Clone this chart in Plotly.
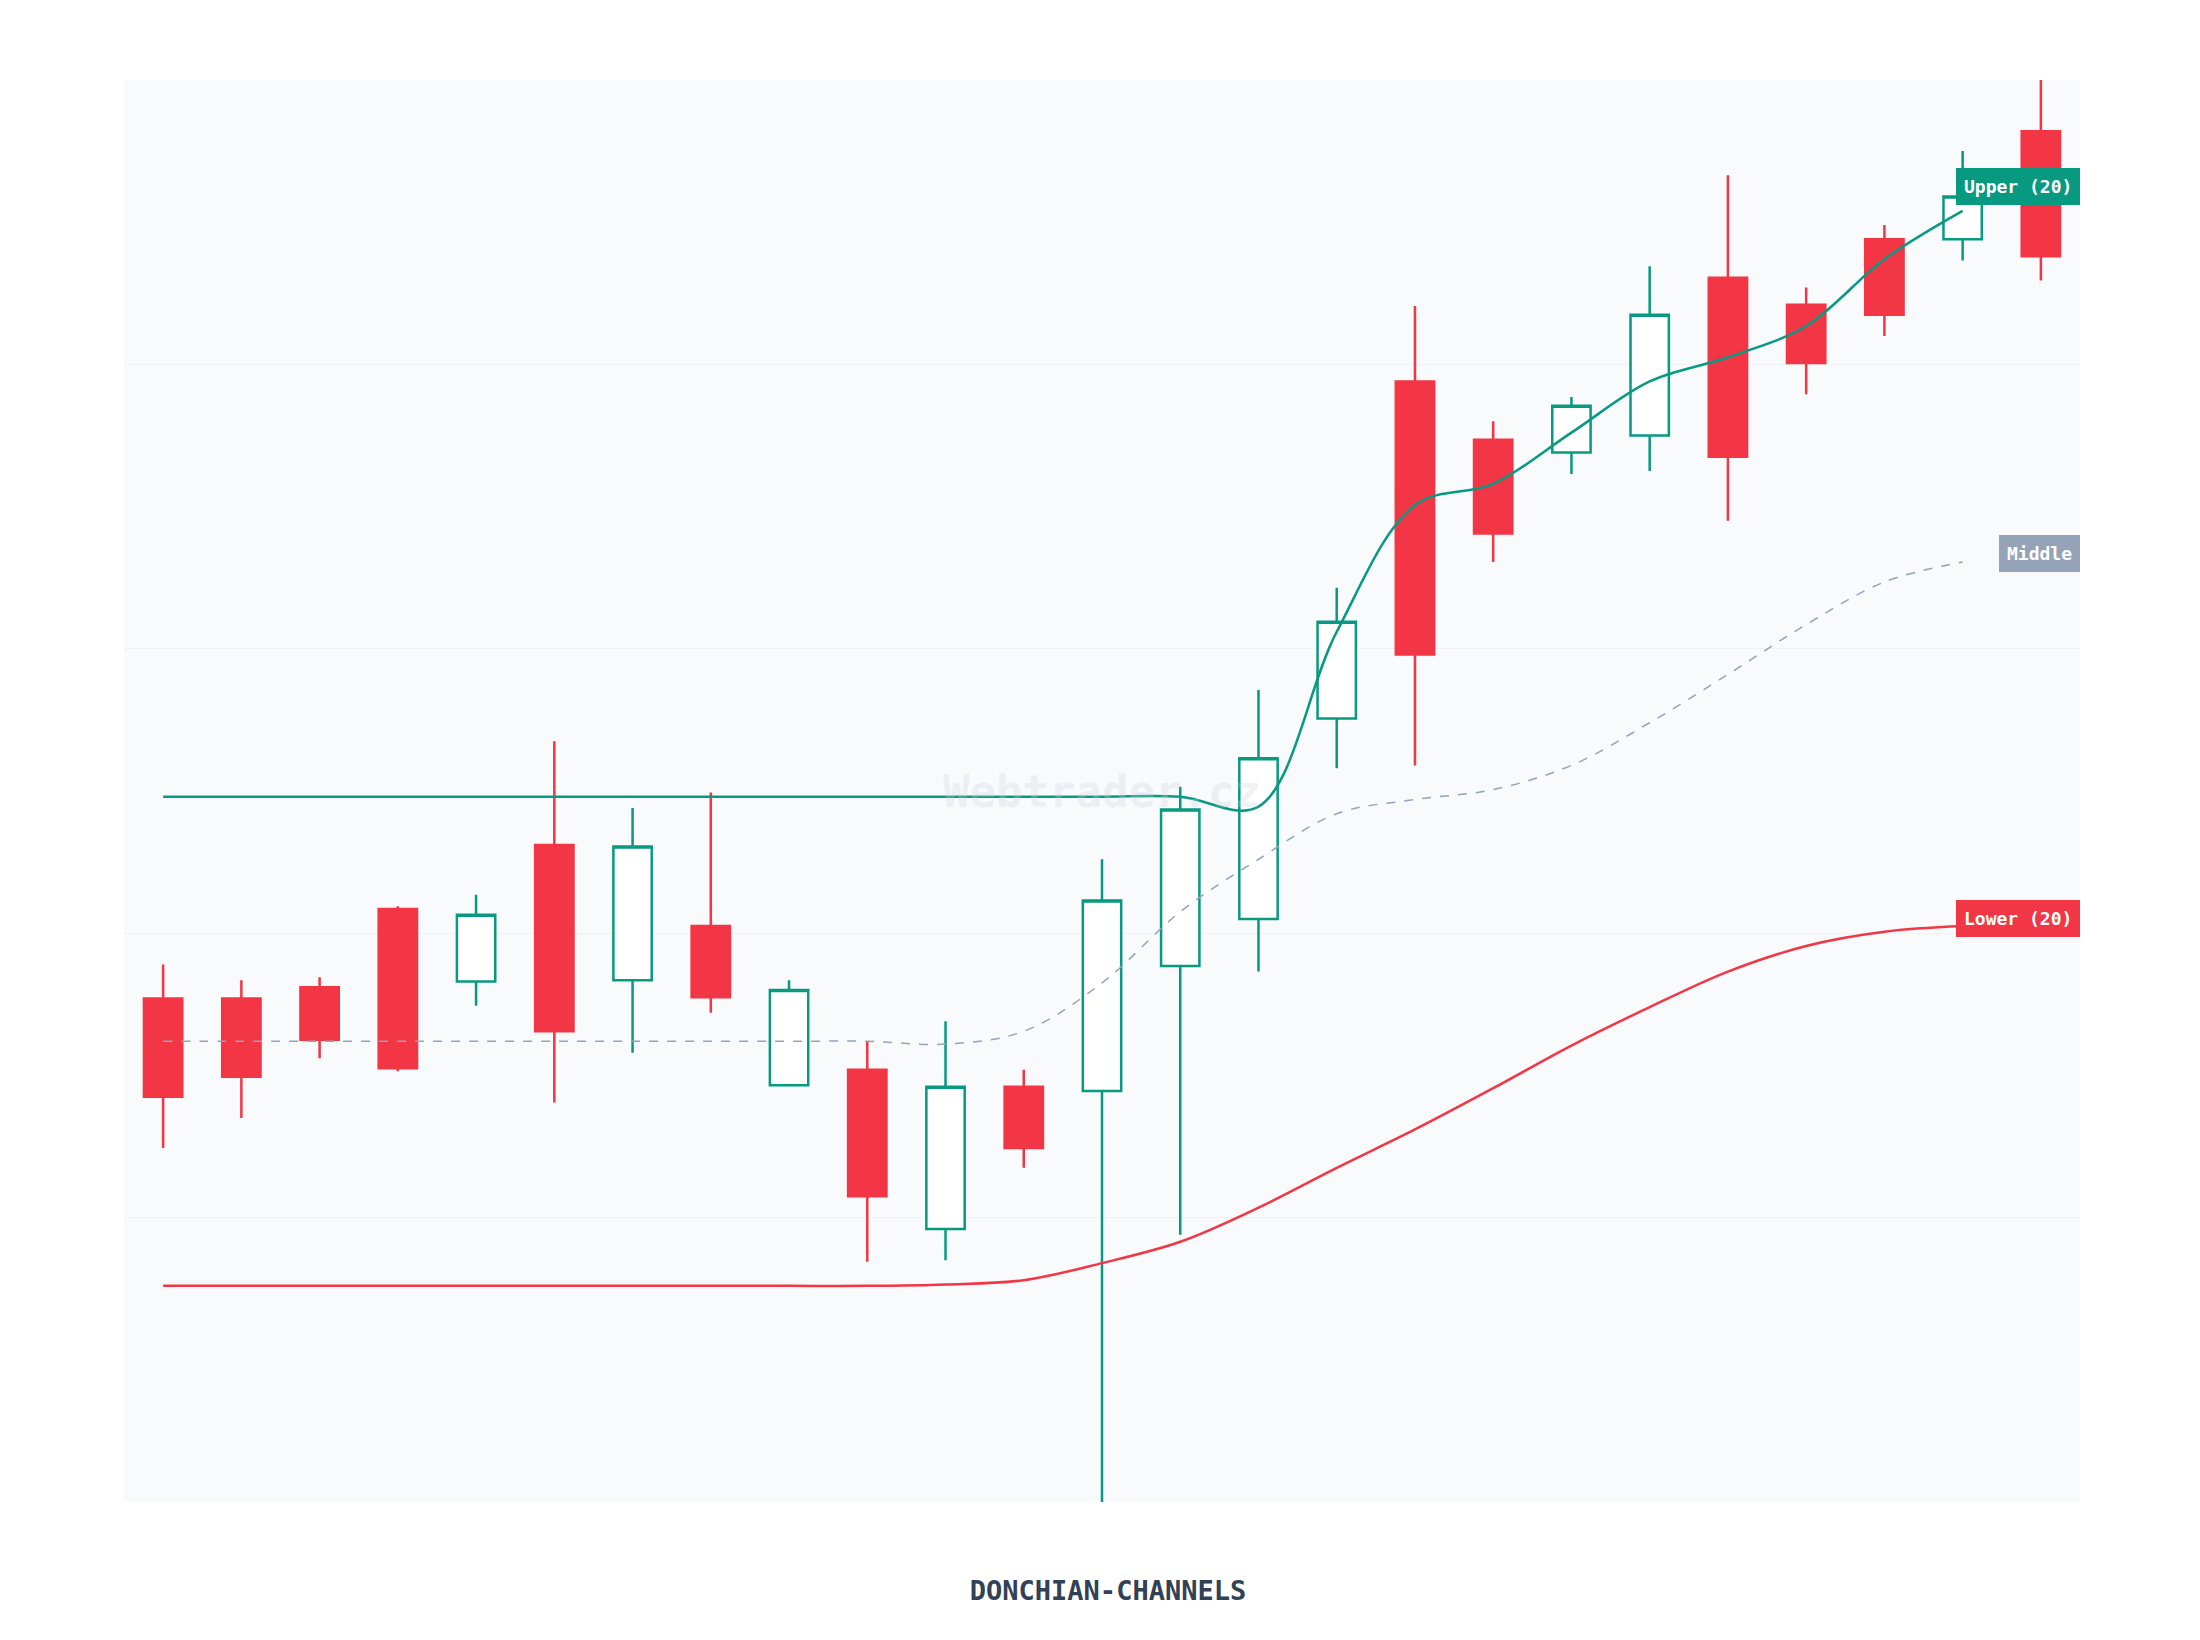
import plotly.graph_objects as go

# candle data, index 0..24
idx = list(range(25))
opens = [35.4, 35.4, 36.2, 41.7, 36.6, 46.2, 36.7, 40.5, 29.3, 30.4, 19.2, 29.2, 28.9,
         37.7, 41.0, 55.1, 78.8, 74.7, 73.8, 75.0, 86.1, 84.2, 88.8, 88.8, 96.4]
highs = [37.8, 36.7, 36.9, 41.9, 42.7, 53.5, 48.8, 49.9, 36.7, 32.4, 33.8, 30.4, 45.2,
         50.3, 57.1, 64.3, 84.1, 76.0, 77.7, 86.9, 93.3, 85.4, 89.8, 95.0, 100.0]
lows = [24.9, 27.0, 31.2, 30.3, 34.9, 28.1, 31.6, 34.4, 29.3, 16.9, 17.0, 23.5, 0.0,
        18.8, 37.3, 51.6, 51.8, 66.1, 72.3, 72.5, 69.0, 77.9, 82.0, 87.3, 85.9]
closes = [28.5, 29.9, 32.5, 30.5, 41.3, 33.1, 46.1, 35.5, 36.0, 21.5, 29.2, 24.9, 42.3,
          48.7, 52.3, 61.9, 59.6, 68.1, 77.1, 83.5, 73.5, 80.1, 83.5, 91.8, 87.6]

# channel lines (drawn to index 23)
line_idx = list(range(24))
upper = [49.6] * 14 + [48.9, 61.2, 70.1, 71.6, 75.2, 78.8, 80.5, 82.7, 87.4, 90.8]
middle = [32.4] * 10 + [32.2, 33.1, 36.5, 41.5, 45.2, 48.4, 49.4, 50.1, 51.8, 54.8,
                        58.2, 61.7, 64.7, 66.1]
lower = [15.2] * 10 + [15.3, 15.6, 16.8, 18.3, 20.7, 23.5, 26.2, 29.1, 32.1, 34.8,
                       37.3, 39.1, 40.1, 40.5]

# label positions
labels = ["Upper (20)", "Middle", "Lower (20)"]
label_y = [92.5, 66.7, 41.0]

RED = "#f23645"
GREEN = "#089981"
GREY = "#94a3b8"
MONO = "DejaVu Sans Mono"

fig = go.Figure()
fig.add_trace(go.Candlestick(
    x=idx, open=opens, high=highs, low=lows, close=closes,
    increasing=dict(line=dict(color=GREEN, width=2.5), fillcolor="white"),
    decreasing=dict(line=dict(color=RED, width=2.5), fillcolor=RED),
    whiskerwidth=0, showlegend=False,
))
fig.add_trace(go.Scatter(x=line_idx, y=upper, mode="lines", line=dict(color=GREEN, width=2.5, shape="spline"), showlegend=False))
fig.add_trace(go.Scatter(x=line_idx, y=middle, mode="lines", line=dict(color=GREY, width=1.5, dash="dash", shape="spline"), showlegend=False))
fig.add_trace(go.Scatter(x=line_idx, y=lower, mode="lines", line=dict(color=RED, width=2.5, shape="spline"), showlegend=False))

for text, yv, col in zip(labels, label_y, [GREEN, GREY, RED]):
    fig.add_annotation(x=1, xref="paper", xanchor="right", y=yv, yref="y", text=f"<b>{text}</b>",
                       showarrow=False, bgcolor=col, bordercolor=col, borderpad=7,
                       font=dict(family=MONO, size=18, color="white"))

fig.add_annotation(x=0.5, y=0.5, xref="paper", yref="paper", text="<b>Webtrader.cz</b>", showarrow=False,
                   font=dict(family=MONO, size=44, color="rgba(203,213,225,0.3)"))

fig.update_layout(
    width=2200, height=1640,
    margin=dict(l=116, r=128, t=72, b=146),
    paper_bgcolor="white", plot_bgcolor="#f8fafc",
    title=dict(text="<b>DONCHIAN-CHANNELS</b>", x=0.5, xanchor="center", y=0.035, yanchor="middle",
               font=dict(family=MONO, size=27, color="#334155")),
    xaxis=dict(range=[-0.5, 24.5], showgrid=False, showticklabels=False, zeroline=False, rangeslider=dict(visible=False)),
    yaxis=dict(range=[0, 100], dtick=20, showgrid=True, gridcolor="#eef1f5", showticklabels=False, zeroline=False),
)
fig.write_html("out.html")
